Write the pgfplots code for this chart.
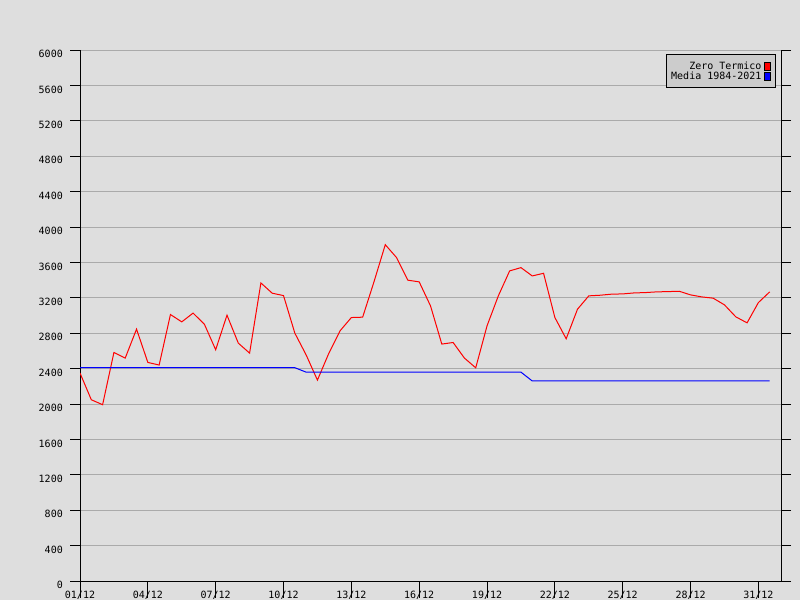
\documentclass[border=0pt]{standalone}
\usepackage{fontspec}
\setmainfont{DejaVu Sans Mono}
\usepackage{pgfplots}
\pgfplotsset{compat=1.18}
\definecolor{bg}{HTML}{DEDEDE}
\definecolor{gridgray}{HTML}{AAAAAA}
\definecolor{legbg}{HTML}{CCCCCC}
\newcommand{\chartfont}{\fontsize{10bp}{10bp}\selectfont}

\pgfplotstableread{
day zero
1    2350
1.5  2048
2    1992
2.5  2582
3    2519
3.5  2846
4    2470
4.5  2440
5    3011
5.5  2928
6    3027
6.5  2902
7    2613
7.5  3004
8    2688
8.5  2575
9    3368
9.5  3252
10   3225
10.5 2801
11   2555
11.5 2270
12   2571
12.5 2827
13   2977
13.5 2981
14   3380
14.5 3800
15   3654
15.5 3399
16   3380
16.5 3109
17   2677
17.5 2695
18   2519
18.5 2409
19   2883
19.5 3222
20   3504
20.5 3541
21   3447
21.5 3477
22   2977
22.5 2737
23   3071
23.5 3222
24   3229
24.5 3241
25   3244
25.5 3255
26   3259
26.5 3267
27   3270
27.5 3274
28   3233
28.5 3210
29   3196
29.5 3120
30   2985
30.5 2917
31   3146
31.5 3267
}\zerotermico

\pgfplotstableread{
day media
1    2410
10.5 2410
11   2360
20.5 2360
21   2260
31.5 2260
}\media

\begin{document}
\begin{tikzpicture}
\fill[bg] (0bp,0bp) rectangle (800bp,600bp);
\useasboundingbox (0bp,0bp) rectangle (800bp,600bp);
\begin{axis}[
    at={(80bp,19bp)}, anchor=south west,
    scale only axis,
    width=701bp, height=531bp,
    xmin=1, xmax=32,
    ymin=0, ymax=6000,
    axis x line=bottom,
    axis y line=box,
    every outer x axis line/.append style={-, shorten <=-10bp, shorten >=-10bp},
    every outer y axis line/.append style={-},
    axis line style={black, line width=1bp},
    xtick={1,4,7,10,13,16,19,22,25,28,31},
    xticklabels={01/12,04/12,07/12,10/12,13/12,16/12,19/12,22/12,25/12,28/12,31/12},
    ytick={0,400,...,6000},
    scaled y ticks=false,
    /pgf/number format/1000 sep={},
    /pgf/number format/assume math mode=true,
    tick align=outside,
    major tick length=10bp,
    tick style={black, line width=1bp},
    major x tick style={/pgfplots/major tick length=17bp},
    ymajorgrids,
    major grid style={gridgray, line width=1bp},
    ticklabel style={font=\chartfont},
    yticklabel style={anchor=north east, inner sep=0pt, xshift=-7bp},
    xticklabel style={anchor=center, inner sep=0pt, yshift=-4bp},
    legend style={
        at={(1,1)}, anchor=north east, xshift=-5bp, yshift=-4bp,
        fill=legbg, draw=black, line width=1bp,
        inner xsep=5bp, inner ysep=6.5bp,
        font=\chartfont,
        nodes={inner sep=0bp, text height=8bp, text depth=2bp},
        row sep=0bp, column sep=2bp,
    },
    legend cell align=right,
    legend plot pos=right,
]
\addplot[red, line width=1bp,
    legend image code/.code={\draw[draw=black, fill=red, line width=1bp] (0bp,-4bp) rectangle (6bp,4bp);}]
    table[x=day, y=zero] {\zerotermico};
\addlegendentry{Zero Termico}
\addplot[blue, line width=1bp,
    legend image code/.code={\draw[draw=black, fill=blue, line width=1bp] (0bp,-4bp) rectangle (6bp,4bp);}]
    table[x=day, y=media] {\media};
\addlegendentry{Media 1984-2021}
\end{axis}
\end{tikzpicture}
\end{document}
